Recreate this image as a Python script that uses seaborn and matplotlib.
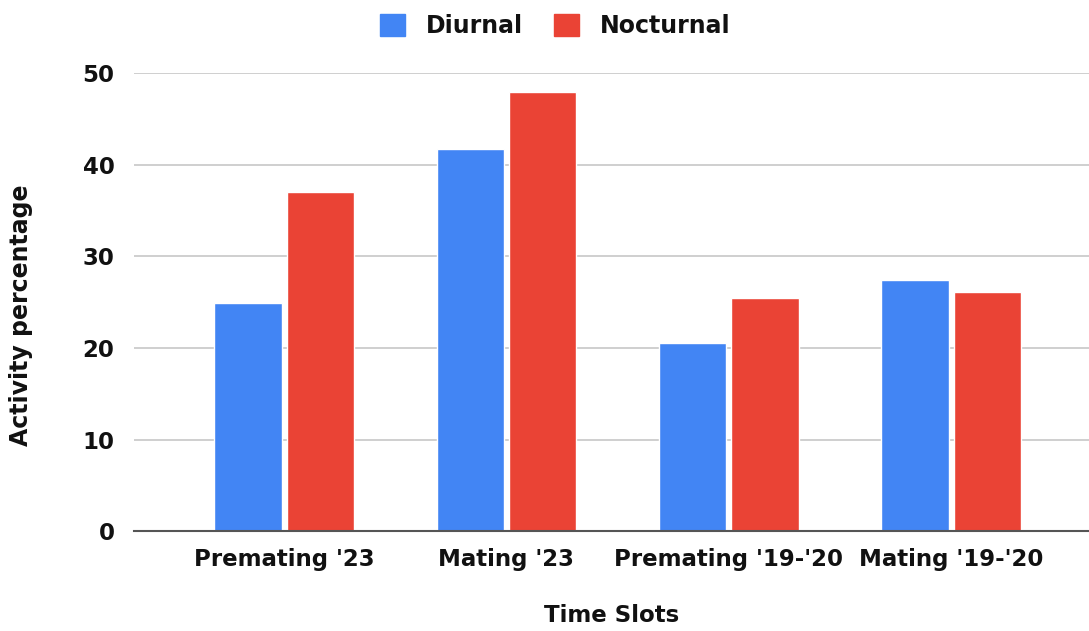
import matplotlib
matplotlib.use("Agg")
import matplotlib.pyplot as plt
import seaborn as sns
import pandas as pd

categories = ["Premating '23", "Mating '23", "Premating '19-'20", "Mating '19-'20"]
diurnal = [24.9, 41.7, 20.6, 27.4]
nocturnal = [37.0, 48.0, 25.5, 26.1]
series = ["Diurnal", "Nocturnal"]
colors = ["#4285F4", "#EA4335"]

df = pd.DataFrame({
    "Time Slots": categories * 2,
    "value": diurnal + nocturnal,
    "series": [series[0]] * 4 + [series[1]] * 4,
})

sns.set_theme(style="white")
plt.rcParams["font.family"] = ["DejaVu Sans"]
plt.rcParams["font.weight"] = "bold"
plt.rcParams["text.color"] = "#111111"

fig = plt.figure(figsize=(10.89, 6.31), dpi=100)
ax = fig.add_axes([0.123, 0.158, 0.877, 0.726])

sns.barplot(data=df, x="Time Slots", y="value", hue="series", order=categories,
            hue_order=series, palette=colors, width=0.65, gap=0.07, ax=ax,
            saturation=1, legend=True)

ax.set_ylim(0, 50)
ax.set_xlim(-0.675, 3.62)
ax.set_yticks([0, 10, 20, 30, 40, 50])
ax.yaxis.grid(True, color="#cccccc", linewidth=1.3)
ax.set_axisbelow(True)
for s in ["top", "right", "left"]:
    ax.spines[s].set_visible(False)
ax.spines["bottom"].set_color("#555555")
ax.spines["bottom"].set_linewidth(1.5)
ax.tick_params(axis="both", length=0, labelcolor="#111111")
ax.tick_params(axis="x", pad=12, labelsize=16.5)
ax.tick_params(axis="y", pad=14, labelsize=16.5)
for lbl in ax.get_xticklabels() + ax.get_yticklabels():
    lbl.set_fontweight("bold")
ax.set_xlabel("Time Slots", fontsize=16.5, fontweight="bold", color="#111111")
ax.set_ylabel("Activity percentage", fontsize=17, fontweight="bold", color="#111111")
ax.xaxis.set_label_coords(0.5, -0.158)
ax.yaxis.set_label_coords(-0.106, 0.472)

ax.get_legend().remove()
handles = [plt.Rectangle((0, 0), 1, 1, color=c) for c in colors]
fig.legend(handles, series, loc="upper center", bbox_to_anchor=(0.51, 1.012), ncol=2,
           frameon=False, prop={"size": 17, "weight": "bold"}, handlelength=1.05,
           handleheight=1.05, columnspacing=1.3, handletextpad=0.9, labelcolor="#111111")

fig.savefig("out.png", dpi=100)
